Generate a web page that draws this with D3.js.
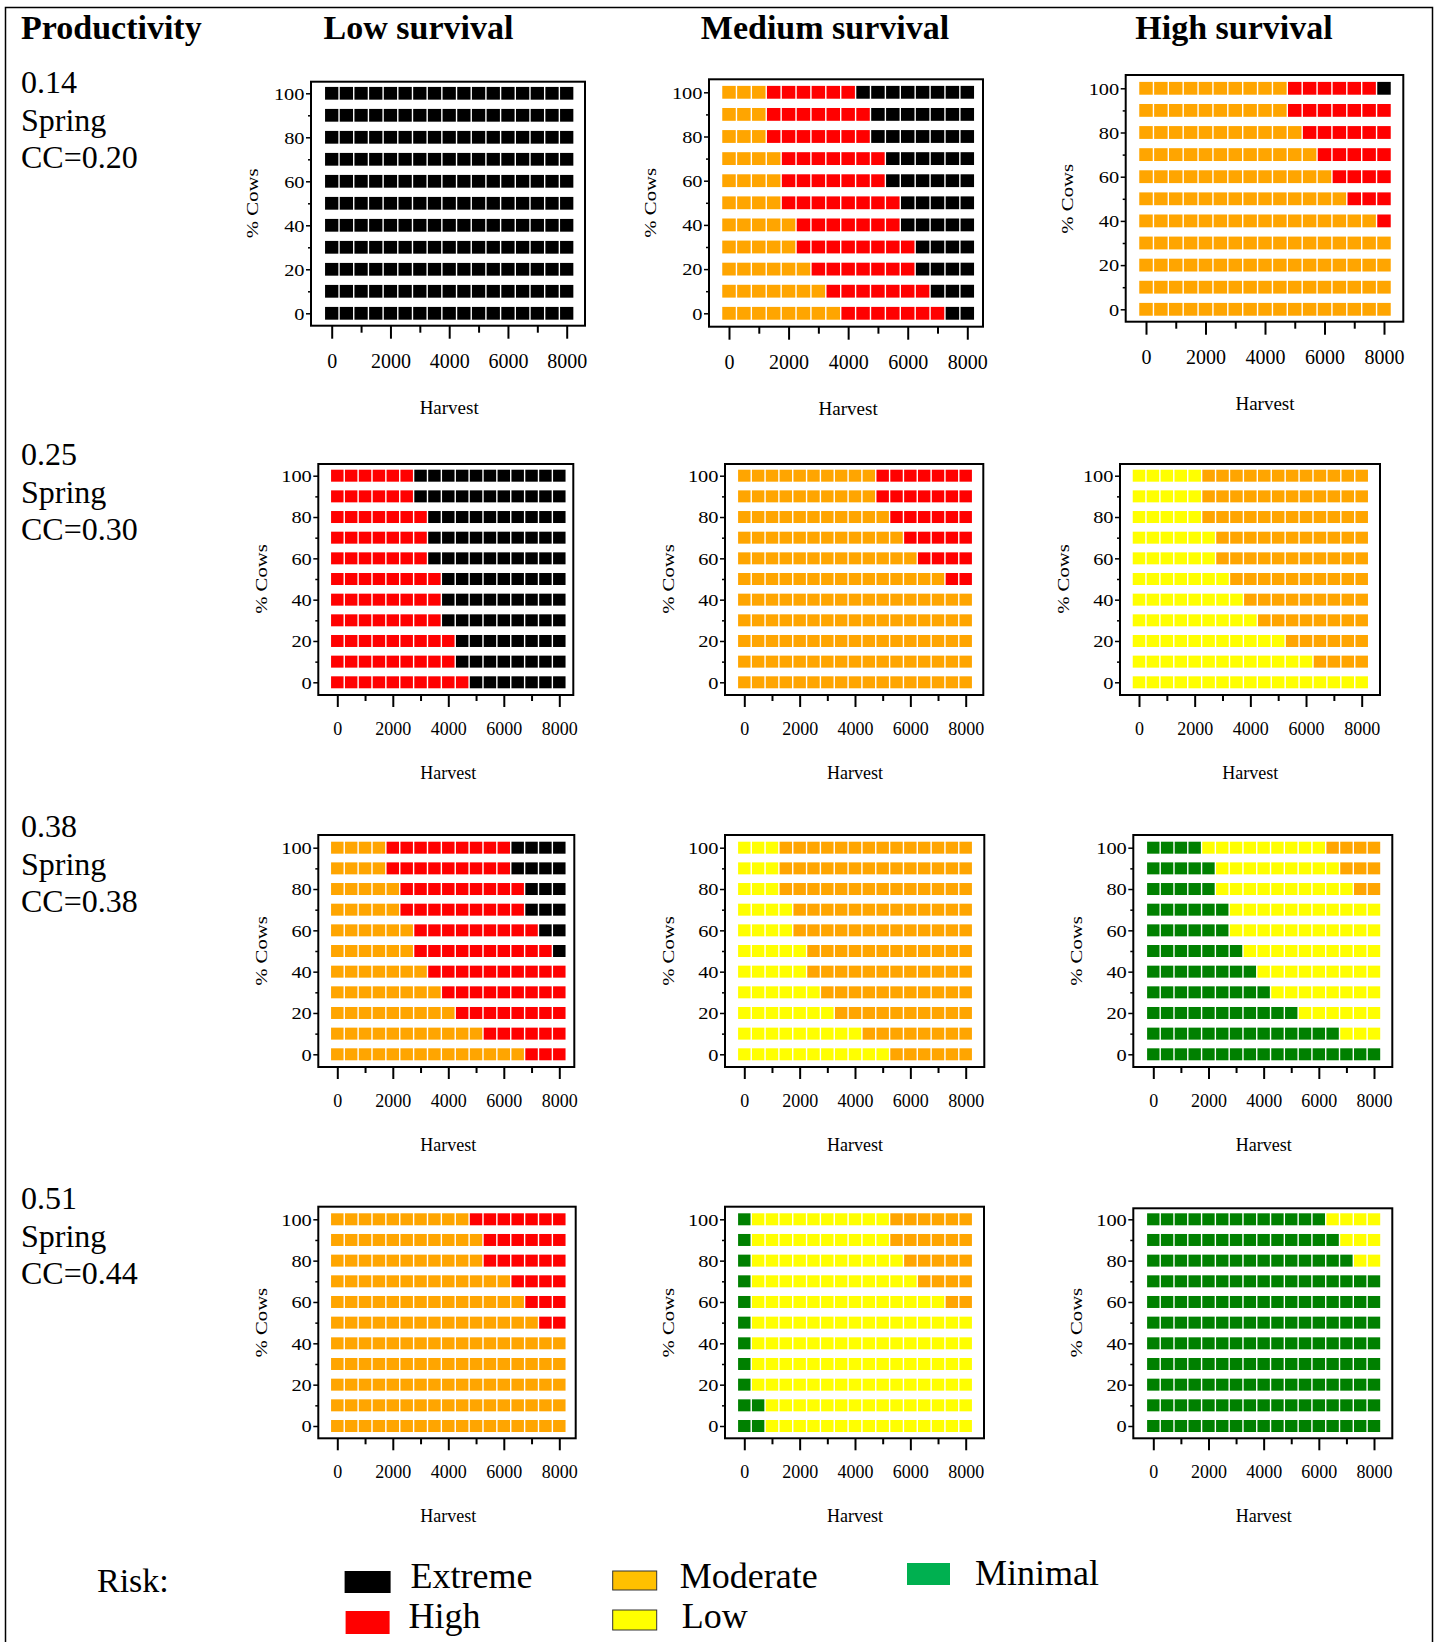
<!DOCTYPE html>
<html><head><meta charset="utf-8">
<script src="https://cdn.jsdelivr.net/npm/d3@7"></script>
<style>
body{margin:0;background:#fff}
svg text{font-family:"Liberation Serif","Times New Roman",serif;fill:#000}
</style>
</head><body>
<svg id="chart" width="1437" height="1642"></svg>
<script>
// ---------------- DATA ----------------
const harvest = [0,500,1000,1500,2000,2500,3000,3500,4000,4500,5000,5500,6000,6500,7000,7500,8000];
const cowsPct = [100,90,80,70,60,50,40,30,20,10,0];
const survivalLevels = ["Low survival","Medium survival","High survival"];
const productivity = ["0.14","0.25","0.38","0.51"];
const springCC = ["CC=0.20","CC=0.30","CC=0.38","CC=0.44"];
const riskLevels = ["Minimal","Low","Moderate","High","Extreme"];
const riskColors = ["#008000","#ffff00","#ffa500","#ff0000","#000000"];
const legendColors = ["#00b050","#ffff00","#ffc000","#ff0000","#000000"];
const xTicksMajor = [0,2000,4000,6000,8000];
const xTicksMinor = [1000,3000,5000,7000];
const yTicksMajor = [0,20,40,60,80,100];
const yTicksMinor = [10,30,50,70,90];

// Each row (for %Cows 100 -> 0): number of Harvest cells (0 -> 8000) in
// [Minimal, Low, Moderate, High, Extreme] risk, in that order along Harvest.
const risk_014_low = [
 [0,0,0,0,17],[0,0,0,0,17],[0,0,0,0,17],[0,0,0,0,17],[0,0,0,0,17],[0,0,0,0,17],
 [0,0,0,0,17],[0,0,0,0,17],[0,0,0,0,17],[0,0,0,0,17],[0,0,0,0,17]];
const risk_014_med = [
 [0,0,3,6,8],[0,0,3,7,7],[0,0,3,7,7],[0,0,4,7,6],[0,0,4,7,6],[0,0,4,8,5],
 [0,0,5,7,5],[0,0,5,8,4],[0,0,6,7,4],[0,0,7,7,3],[0,0,8,7,2]];
const risk_014_high = [
 [0,0,10,6,1],[0,0,10,7,0],[0,0,11,6,0],[0,0,12,5,0],[0,0,13,4,0],[0,0,14,3,0],
 [0,0,16,1,0],[0,0,17,0,0],[0,0,17,0,0],[0,0,17,0,0],[0,0,17,0,0]];
const risk_025_low = [
 [0,0,0,6,11],[0,0,0,6,11],[0,0,0,7,10],[0,0,0,7,10],[0,0,0,7,10],[0,0,0,8,9],
 [0,0,0,8,9],[0,0,0,8,9],[0,0,0,9,8],[0,0,0,9,8],[0,0,0,10,7]];
const risk_025_med = [
 [0,0,10,7,0],[0,0,10,7,0],[0,0,11,6,0],[0,0,12,5,0],[0,0,13,4,0],[0,0,15,2,0],
 [0,0,17,0,0],[0,0,17,0,0],[0,0,17,0,0],[0,0,17,0,0],[0,0,17,0,0]];
const risk_025_high = [
 [0,5,12,0,0],[0,5,12,0,0],[0,5,12,0,0],[0,6,11,0,0],[0,6,11,0,0],[0,7,10,0,0],
 [0,8,9,0,0],[0,9,8,0,0],[0,11,6,0,0],[0,13,4,0,0],[0,17,0,0,0]];
const risk_038_low = [
 [0,0,4,9,4],[0,0,4,9,4],[0,0,5,9,3],[0,0,5,9,3],[0,0,6,9,2],[0,0,6,10,1],
 [0,0,7,10,0],[0,0,8,9,0],[0,0,9,8,0],[0,0,11,6,0],[0,0,14,3,0]];
const risk_038_med = [
 [0,3,14,0,0],[0,3,14,0,0],[0,3,14,0,0],[0,4,13,0,0],[0,4,13,0,0],[0,5,12,0,0],
 [0,5,12,0,0],[0,6,11,0,0],[0,7,10,0,0],[0,9,8,0,0],[0,11,6,0,0]];
const risk_038_high = [
 [4,9,4,0,0],[5,9,3,0,0],[5,10,2,0,0],[6,11,0,0,0],[6,11,0,0,0],[7,10,0,0,0],
 [8,9,0,0,0],[9,8,0,0,0],[11,6,0,0,0],[14,3,0,0,0],[17,0,0,0,0]];
const risk_051_low = [
 [0,0,10,7,0],[0,0,11,6,0],[0,0,11,6,0],[0,0,13,4,0],[0,0,14,3,0],[0,0,15,2,0],
 [0,0,17,0,0],[0,0,17,0,0],[0,0,17,0,0],[0,0,17,0,0],[0,0,17,0,0]];
const risk_051_med = [
 [1,10,6,0,0],[1,10,6,0,0],[1,11,5,0,0],[1,12,4,0,0],[1,14,2,0,0],[1,16,0,0,0],
 [1,16,0,0,0],[1,16,0,0,0],[1,16,0,0,0],[2,15,0,0,0],[2,15,0,0,0]];
const risk_051_high = [
 [13,4,0,0,0],[14,3,0,0,0],[15,2,0,0,0],[17,0,0,0,0],[17,0,0,0,0],[17,0,0,0,0],
 [17,0,0,0,0],[17,0,0,0,0],[17,0,0,0,0],[17,0,0,0,0],[17,0,0,0,0]];

const panelData = [
 [risk_014_low, risk_014_med, risk_014_high],
 [risk_025_low, risk_025_med, risk_025_high],
 [risk_038_low, risk_038_med, risk_038_high],
 [risk_051_low, risk_051_med, risk_051_high]];

// ---------------- LAYOUT ----------------
// frame [x0,y0,x1,y1], x range (Harvest 0 -> 8000), y range (%Cows 0 -> 100)
const layout = [
 [{f:[311,81.7,585,325.7],   xr:[331.7,566.7], yr:[313.3,93.3]},
  {f:[709,79.3,983,326.7],   xr:[729,967.3],   yr:[313.3,92.3]},
  {f:[1125.7,75,1403.3,321.7],xr:[1146,1384],  yr:[309.3,88.3]}],
 [{f:[318.3,464,573.3,695],  xr:[337.3,559.3], yr:[682.3,475.7]},
  {f:[725,464,983.3,695],    xr:[744.3,965.7], yr:[682.3,475.7]},
  {f:[1120,464,1380,695],    xr:[1139,1361.7], yr:[682.3,475.7]}],
 [{f:[318.3,835,574.3,1067], xr:[337.3,559.3], yr:[1054.3,847.7]},
  {f:[725,835,984.3,1067],   xr:[744.3,965.7], yr:[1054.3,847.7]},
  {f:[1133.3,835,1392.3,1067],xr:[1153.3,1374],yr:[1054.3,847.7]}],
 [{f:[318.3,1206.7,575.7,1438.3],xr:[337.3,559.3], yr:[1426,1219.3]},
  {f:[725,1206.7,984,1438.3],     xr:[744.3,965.7], yr:[1426,1219.3]},
  {f:[1133.3,1208.3,1392.3,1438.3],xr:[1153.3,1374],yr:[1426,1219.3]}]];

const svg = d3.select("#chart");

// outer border
svg.append("rect").attr("x",5.5).attr("y",7.5).attr("width",1427).attr("height",1700)
  .attr("fill","none").attr("stroke","#000").attr("stroke-width",1.5);

// headers
svg.append("text").attr("x",21).attr("y",39).attr("font-size",34).attr("font-weight","bold").text("Productivity");
const headerX = [418.5,825,1234];
survivalLevels.forEach((s,i)=>{
  svg.append("text").attr("x",headerX[i]).attr("y",39).attr("text-anchor","middle")
    .attr("font-size",34).attr("font-weight","bold").text(s);
});

// row labels
const rowLabelY = [93,465,837,1209];
productivity.forEach((p,r)=>{
  const g = svg.append("g").attr("font-size",32);
  g.append("text").attr("x",21).attr("y",rowLabelY[r]).text(p);
  g.append("text").attr("x",21).attr("y",rowLabelY[r]+37.7).text("Spring");
  g.append("text").attr("x",21).attr("y",rowLabelY[r]+75.4).text(springCC[r]);
});

// panels
panelData.forEach((rowPanels,r)=>{
  rowPanels.forEach((rows,c)=>{
    const L = layout[r][c];
    const big = r===0;
    const x = d3.scaleLinear().domain([0,8000]).range(L.xr);
    const y = d3.scaleLinear().domain([0,100]).range(L.yr);
    const g = svg.append("g");
    const half = (x(500)-x(0))/2;
    const cellH = Math.abs(y(10)-y(0))*0.58;

    const cells = [];
    rows.forEach((counts,i)=>{
      const cats = [];
      counts.forEach((n,k)=>{ for(let t=0;t<n;t++) cats.push(k); });
      harvest.forEach((h,j)=>cells.push({h:h, c:cowsPct[i], k:cats[j]}));
    });
    g.selectAll("rect.cell").data(cells).join("rect").attr("class","cell")
      .attr("x",d=>x(d.h)-half+0.7).attr("width",2*half-1.4)
      .attr("y",d=>y(d.c)-cellH/2).attr("height",cellH)
      .attr("fill",d=>riskColors[d.k]);

    // frame
    g.append("rect").attr("x",L.f[0]).attr("y",L.f[1])
      .attr("width",L.f[2]-L.f[0]).attr("height",L.f[3]-L.f[1])
      .attr("fill","none").attr("stroke","#000").attr("stroke-width",2);

    // x axis
    const xa = g.append("g").attr("transform",`translate(0,${L.f[3]})`);
    xa.call(d3.axisBottom(x).tickValues(xTicksMajor).tickSize(big?13:12).tickFormat(d3.format("d")));
    xa.select(".domain").remove();
    xa.selectAll("line").attr("stroke-width",2);
    xa.selectAll("text").attr("y",big?42.5:39.5).attr("dy",0)
      .attr("font-size",big?20:18).style("font-family","'Liberation Serif',serif");
    const xm = g.append("g").attr("transform",`translate(0,${L.f[3]})`);
    xm.call(d3.axisBottom(x).tickValues(xTicksMinor).tickSize(big?7:6).tickFormat(""));
    xm.select(".domain").remove();
    xm.selectAll("line").attr("stroke-width",2);

    // y axis
    const ya = g.append("g").attr("transform",`translate(${L.f[0]},0)`);
    ya.call(d3.axisLeft(y).tickValues(yTicksMajor).tickSize(5));
    ya.select(".domain").remove();
    ya.selectAll("line").attr("stroke-width",1.5);
    ya.selectAll("text").attr("x",-6.5/1.2).attr("dy","0.34em")
      .attr("transform","scale(1.2,1)")
      .attr("font-size",17).style("font-family","'Liberation Serif',serif");
    const ym = g.append("g").attr("transform",`translate(${L.f[0]},0)`);
    ym.call(d3.axisLeft(y).tickValues(yTicksMinor).tickSize(3).tickFormat(""));
    ym.select(".domain").remove();
    ym.selectAll("line").attr("stroke-width",1.5);

    // axis titles
    g.append("text").attr("x",(L.xr[0]+L.xr[1])/2).attr("y",L.f[3]+(big?88.5:83.5))
      .attr("text-anchor","middle").attr("font-size",big?19:18).text("Harvest");
    const cy = (L.yr[0]+L.yr[1])/2;
    const bx = L.f[0]-(big?53:51);
    g.append("text").attr("transform",`translate(${bx},${cy}) rotate(-90) scale(1.22,1)`)
      .attr("text-anchor","middle").attr("font-size",17).text("% Cows");
  });
});

// legend
svg.append("text").attr("x",97).attr("y",1592).attr("font-size",34).text("Risk:");
const legendItems = [
  {k:4, rx:344.6, ry:1571, rw:46, rh:22, tx:410.6, ty:1588},
  {k:3, rx:345.6, ry:1611, rw:44, rh:23, tx:408.5, ty:1627.5},
  {k:2, rx:612.7, ry:1571, rw:44, rh:19, tx:679.8, ty:1588},
  {k:1, rx:612.7, ry:1610, rw:44, rh:20, tx:681.8, ty:1628},
  {k:0, rx:907,   ry:1563, rw:43, rh:22, tx:975,   ty:1585}];
legendItems.forEach(it=>{
  svg.append("rect").attr("x",it.rx).attr("y",it.ry).attr("width",it.rw).attr("height",it.rh)
    .attr("fill",legendColors[it.k])
    .attr("stroke",(it.k===1||it.k===2)?"#333":"none").attr("stroke-width",1);
  svg.append("text").attr("x",it.tx).attr("y",it.ty).attr("font-size",36).text(riskLevels[it.k]);
});
</script>
</body></html>
